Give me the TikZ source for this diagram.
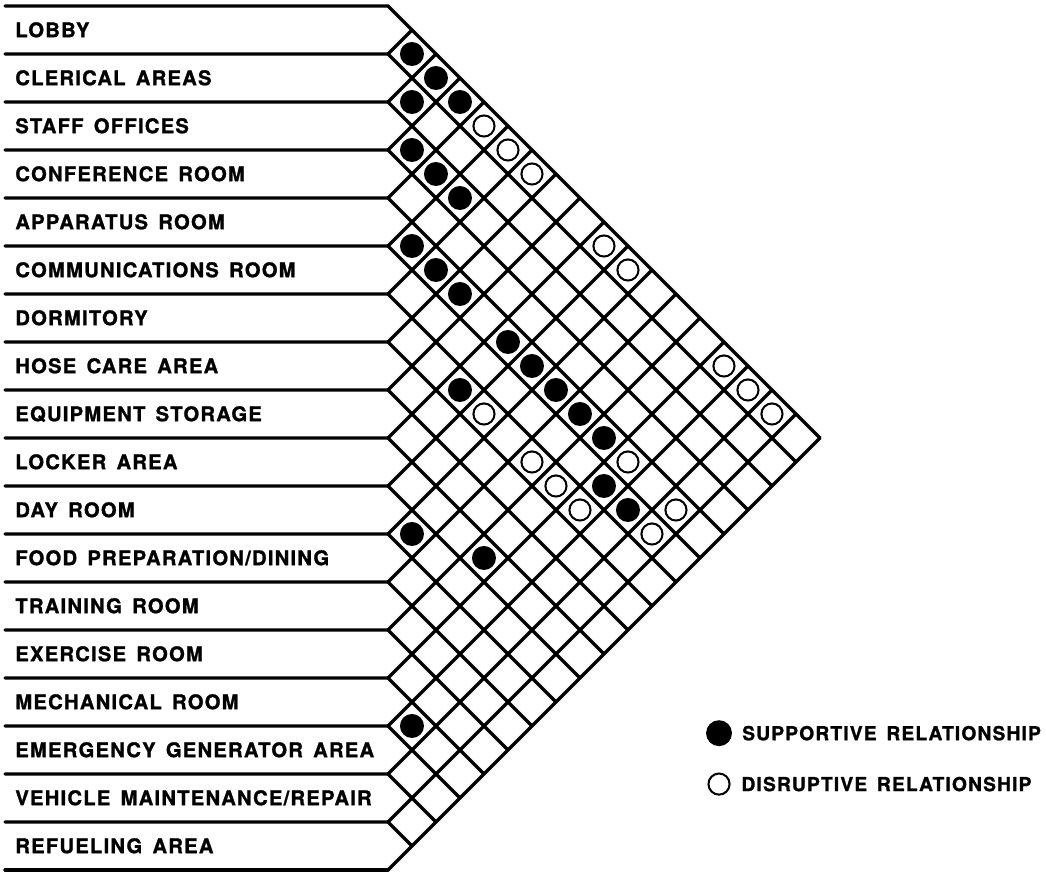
\documentclass[tikz,border=0pt]{standalone}
\usepackage{fontspec}
\usetikzlibrary{positioning}
\newfontfamily\roomfont{TeX Gyre Heros}[LetterSpace=6,WordSpace=1.5,BoldFeatures={FakeBold=1.2}]
\newcommand{\xo}{8.083}
\tikzset{
    grid/.style={line width=2pt, line cap=round, line join=round},
    room/.style={anchor=base west, inner sep=0pt, font=\roomfont\bfseries\fontsize{12}{14}\selectfont},
    keytext/.style={room, font=\roomfont\bfseries\fontsize{11.4}{13}\selectfont},
    supp/.style={circle, fill=black, minimum size=0.5cm, inner sep=0pt},
    disr/.style={circle, draw=black, line width=1.2pt, minimum size=0.44cm, inner sep=0pt},
}
\begin{document}
\begin{tikzpicture}[x=1cm, y=-1cm]
    \useasboundingbox (0,-0.125) rectangle (21.792,18.083);

    \foreach \k in {0,...,18} {
      \coordinate (b\k) at (\xo,\k);
      \draw[grid] (0.104,\k) -- (b\k) -- ++({(18-\k)/2},{(18-\k)/2});
      \draw[grid] (b\k) -- ++({\k/2},{-\k/2});
    }

    \foreach \name [count=\i from 0] in {LOBBY, CLERICAL AREAS, STAFF OFFICES,
        CONFERENCE ROOM, APPARATUS ROOM, COMMUNICATIONS ROOM, DORMITORY,
        HOSE CARE AREA, EQUIPMENT STORAGE, LOCKER AREA, DAY ROOM,
        FOOD PREPARATION/DINING, TRAINING ROOM, EXERCISE ROOM, MECHANICAL ROOM,
        EMERGENCY GENERATOR AREA, VEHICLE MAINTENANCE/REPAIR, REFUELING AREA}
      \node[room] (room\i) at (0.3125,\i+0.65) {\name};

    \foreach \i/\j in {0/1, 0/2, 1/2, 0/3, 2/3, 2/4, 2/5, 4/5, 4/6, 4/7, 4/9,
        4/10, 4/11, 4/12, 4/13, 6/9, 5/14, 5/15, 10/11, 9/13, 14/15}
      \node[supp] (s\i-\j) at ({\xo+(\j-\i)/2},{(\i+\j+1)/2}) {};

    \foreach \i/\j in {0/4, 0/5, 0/6, 0/9, 0/10, 6/10, 0/14, 0/15, 0/16,
        6/12, 4/14, 6/13, 6/14, 4/16, 5/16}
      \node[disr] (d\i-\j) at ({\xo+(\j-\i)/2},{(\i+\j+1)/2}) {};

    \node[supp, minimum size=0.54cm] (keysupp) at (14.98,15.15) {};
    \node[keytext, right=0.2cm of keysupp, anchor=west] (keysupptext) {SUPPORTIVE RELATIONSHIP};
    \node[disr] (keydisr) at (14.98,16.21) {};
    \node[keytext, right=0.22cm of keydisr, anchor=west] (keydisrtext) {DISRUPTIVE RELATIONSHIP};
\end{tikzpicture}
\end{document}
